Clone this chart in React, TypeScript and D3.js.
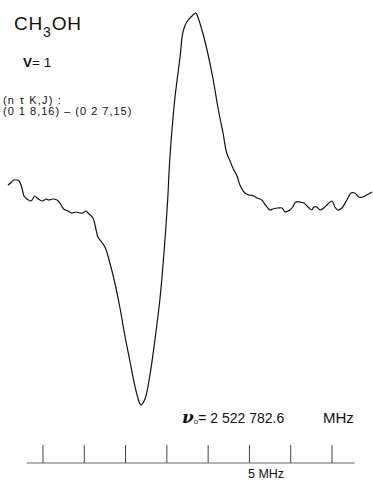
import React from 'react';
import * as d3 from 'd3';

// frequency offset from nu0 (MHz) and derivative signal (arb. units)
const freqOffset = [
  -3.85, -3.78, -3.71, -3.63, -3.58, -3.51, -3.46, -3.39, -3.29, -3.25, -3.2, -3.12, -3.0, -2.93,
  -2.86, -2.76, -2.66, -2.59, -2.5, -2.4, -2.3, -2.2, -2.11, -2.03, -1.96, -1.91, -1.79, -1.74,
  -1.67, -1.62, -1.5, -1.38, -1.26, -1.14, -1.02, -0.9, -0.78, -0.7, -0.63, -0.53, -0.41, -0.29,
  -0.17, -0.07, 0.02, 0.07, 0.19, 0.32, 0.39, 0.48, 0.61, 0.7, 0.75, 0.87, 0.99, 1.11, 1.24,
  1.36, 1.45, 1.53, 1.6, 1.7, 1.77, 1.89, 1.99, 2.11, 2.18, 2.3, 2.37, 2.5, 2.57, 2.69, 2.79,
  2.86, 2.93, 2.98, 3.05, 3.12, 3.22, 3.32, 3.42, 3.51, 3.56, 3.63, 3.71, 3.8, 3.9, 4.0, 4.07,
  4.14, 4.24, 4.36, 4.46, 4.55, 4.65, 4.75, 4.84, 4.97,
];
const signal = [
  7.5, 8.5, 10, 10, 9.5, 6, 2, 0.5, -0.5, 0.5, 2, 0.5, -0.5, 0.5, 0, 0.5, 0, -1.5, -4.5, -5.5,
  -6.5, -6, -6.5, -6.5, -5.5, -6.5, -9, -12.5, -18.5, -20, -23.5, -31.5, -41.5, -53.5, -67.5,
  -80, -92.5, -99, -102.5, -99.5, -87.5, -70, -50, -26.5, 0, 20, 50, 71.5, 84, 89, 92, 93.5,
  91.5, 83.5, 73.5, 61.5, 46, 33.5, 23.5, 19.5, 16, 12, 7.5, 3.5, 2.5, 2, 1, 0, -2, -5, -4.5,
  -4, -4, -6, -5.5, -5, -3.5, -1, -1, -1.5, -3.5, -5, -3.5, -3.5, -5, -4, -2, -0.5, -3.5, -5,
  -4, 0, 3.5, 3.5, 1.5, 1.5, 2.5, 4,
];
const scaleTicks = [-3, -2, -1, 0, 1, 2, 3, 4];
const scaleExtent = [-3.39, 4.55];

const width = 373;
const height = 481;

export default function App() {
  const x = d3.scaleLinear().domain([-3, 4]).range([43, 332]);
  const y = d3.scaleLinear().domain([-100, 100]).range([400, 0]);

  const points: [number, number][] = freqOffset.map((f, i) => [f, signal[i]]);
  const line = d3
    .line<[number, number]>()
    .x(d => x(d[0]))
    .y(d => y(d[1]))
    .curve(d3.curveCatmullRom.alpha(0.5));

  const font = 'Liberation Sans, Arial, sans-serif';
  const baseY = 463;

  return (
    <svg
      width={width}
      height={height}
      style={{ position: 'absolute', left: 0, top: 0, background: '#fff' }}
      fontFamily={font}
    >
      <path d={line(points) || ''} fill="none" stroke="#111" strokeWidth={1.2} />

      <text x={14} y={30} fontSize={19} letterSpacing={0.8} fill="#111">
        CH<tspan fontSize={14} dy={7}>3</tspan>
        <tspan dy={-7}>OH</tspan>
      </text>
      <text x={23} y={67} fontSize={13.5} fill="#111">
        <tspan fontWeight="bold">V</tspan>= 1
      </text>
      <text x={3} y={104} fontSize={11} letterSpacing={1.2} fill="#111">
        (n τ K,J) :
      </text>
      <text x={3} y={115} fontSize={11} letterSpacing={1} fill="#111">
        (0 1 8,16) – (0 2 7,15)
      </text>

      <text x={182} y={423} fontSize={14} fill="#111">
        <tspan fontFamily="DejaVu Serif, serif" fontStyle="italic" fontWeight="bold" fontSize={17}>
          ν
        </tspan>
        <tspan fontSize={8} dy={1}>o</tspan>
        <tspan dy={-1}>= 2 522 782.6</tspan>
      </text>
      <text x={323} y={423} fontSize={15} fill="#111">
        MHz
      </text>

      <line
        x1={x(scaleExtent[0])}
        x2={x(scaleExtent[1])}
        y1={baseY}
        y2={baseY}
        stroke="#666"
        strokeWidth={1}
      />
      {scaleTicks.map(t => (
        <line
          key={t}
          x1={x(t)}
          x2={x(t)}
          y1={445}
          y2={baseY}
          stroke="#444"
          strokeWidth={1}
        />
      ))}
      <text x={248} y={478} fontSize={12.5} fill="#111">
        5 MHz
      </text>
    </svg>
  );
}
